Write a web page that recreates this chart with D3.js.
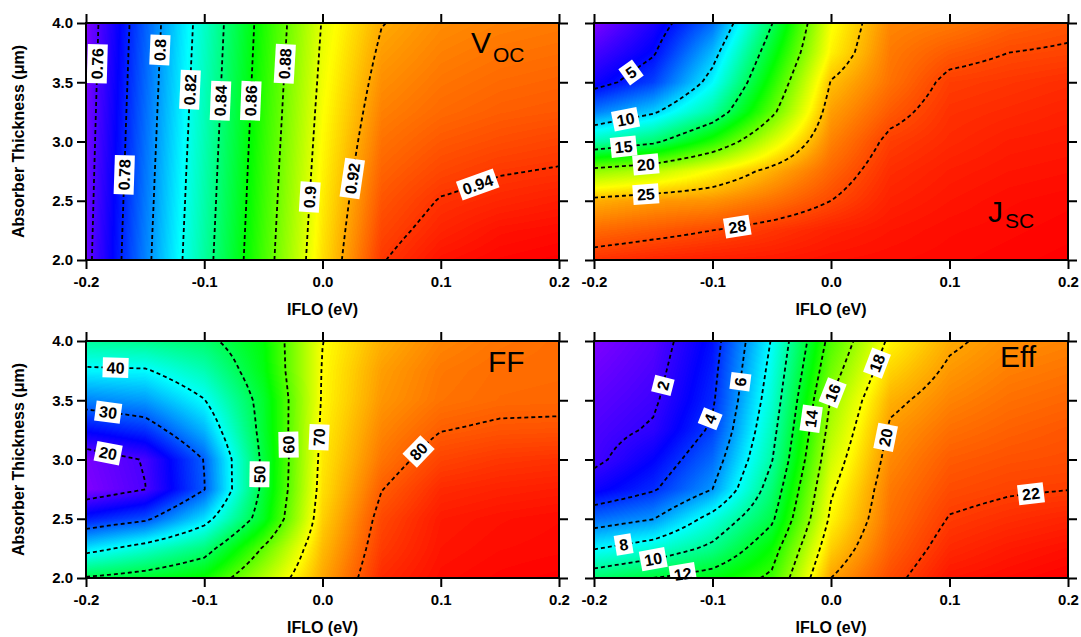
<!DOCTYPE html>
<html><head><meta charset="utf-8">
<script src="https://cdn.jsdelivr.net/npm/d3@7"></script>
<style>
body{margin:0;background:#fff;}
svg{display:block;}
.tick text{font-family:"Liberation Sans",Arial,sans-serif;font-weight:bold;font-size:15px;fill:#000;}
</style>
</head><body>
<svg id="chart" width="1081" height="637"></svg>
<script>
// ---------------- data ----------------
const iflo = [-0.2, -0.15, -0.1, -0.05, 0, 0.05, 0.1, 0.15, 0.2];          // IFLO (eV), grid columns
const thickness = [2.0, 2.25, 2.5, 2.75, 3.0, 3.25, 3.5, 3.75, 4.0];      // absorber thickness (um), grid rows
const xTicks = [-0.2, -0.1, 0, 0.1, 0.2];
const yTicks = [2.0, 2.5, 3.0, 3.5, 4.0];

// one inner array per IFLO value, listing thickness 2.0 -> 4.0
const vocValues = [
  [0.756, 0.7555, 0.755, 0.7545, 0.754, 0.7535, 0.753, 0.7525, 0.752],
  [0.796, 0.7953, 0.7945, 0.7938, 0.793, 0.7923, 0.7915, 0.7908, 0.790],
  [0.834, 0.8331, 0.8322, 0.8314, 0.8305, 0.8296, 0.8288, 0.8279, 0.827],
  [0.873, 0.8721, 0.8712, 0.8704, 0.8695, 0.8686, 0.8678, 0.8669, 0.866],
  [0.9105, 0.9093, 0.9081, 0.9069, 0.9057, 0.9045, 0.9032, 0.902, 0.9008],
  [0.9395, 0.937, 0.9345, 0.932, 0.9295, 0.927, 0.9246, 0.9221, 0.9196],
  [0.946, 0.943, 0.9405, 0.937, 0.934, 0.931, 0.929, 0.927, 0.925],
  [0.948, 0.946, 0.9425, 0.9395, 0.936, 0.933, 0.931, 0.929, 0.927],
  [0.949, 0.947, 0.944, 0.9405, 0.9375, 0.934, 0.932, 0.930, 0.928]
];
const jscValues = [
  [28.6, 27.2, 25.5, 20.8, 12.8, 7.7, 4.2, 2.9, 1.5],
  [28.9, 27.6, 26.0, 21.8, 14.5, 9.7, 6.2, 4.8, 3.9],
  [29.1, 28.0, 26.2, 23.6, 18.0, 13.3, 10.8, 9.2, 7.3],
  [29.2, 28.5, 27.0, 25.5, 22.5, 19.5, 17.9, 16.4, 14.9],
  [29.4, 29.0, 28.0, 27.3, 26.6, 25.9, 25.1, 23.8, 23.3],
  [29.5, 29.3, 29.0, 28.7, 28.3, 27.6, 27.0, 26.8, 26.5],
  [29.6, 29.5, 29.3, 29.1, 28.8, 28.6, 28.3, 27.6, 26.8],
  [29.7, 29.6, 29.5, 29.3, 29.1, 28.8, 28.5, 28.0, 27.4],
  [29.8, 29.7, 29.6, 29.4, 29.2, 29.0, 28.7, 28.15, 27.7]
];
const ffValues = [
  [50.5, 37.9, 25.9, 16.8, 17.3, 24.9, 32.3, 39.2, 45.5],
  [52.5, 42.3, 29.0, 19.9, 20.3, 27.3, 33.7, 39.5, 46.5],
  [55.5, 47.5, 37.8, 29.8, 30.2, 35.3, 39.8, 44.2, 48.5],
  [65.5, 60.5, 53.0, 51.5, 51.3, 52.0, 52.2, 53.9, 54.5],
  [75.5, 74.3, 73.0, 72.0, 71.5, 71.0, 70.5, 70.3, 69.9],
  [83.0, 82.0, 81.2, 79.9, 78.5, 77.5, 76.5, 76.0, 75.0],
  [84.7, 84.3, 84.0, 83.0, 81.5, 79.9, 78.6, 78.3, 77.5],
  [85.2, 84.8, 84.5, 83.5, 82.2, 80.5, 79.2, 79.0, 78.5],
  [85.5, 85.0, 84.8, 83.8, 82.5, 80.6, 79.3, 79.1, 79.0]
];
const effValues = [
  [11.0, 7.9, 5.1, 2.7, 1.7, 1.5, 1.2, 0.85, 0.5],
  [12.0, 8.85, 5.95, 3.83, 2.98, 2.15, 1.8, 1.55, 1.3],
  [12.75, 10.4, 8.6, 6.0, 5.1, 4.25, 3.8, 3.55, 3.3],
  [14.3, 13.2, 11.7, 10.8, 9.9, 9.4, 8.9, 8.5, 8.1],
  [20.0, 19.1, 18.3, 17.8, 17.2, 16.6, 16.1, 15.3, 14.6],
  [21.7, 21.3, 21.0, 20.8, 20.5, 20.2, 19.7, 19.0, 18.3],
  [22.8, 22.4, 22.05, 21.7, 21.4, 21.0, 20.6, 20.2, 19.8],
  [23.0, 22.7, 22.3, 21.9, 21.6, 21.3, 21.0, 20.7, 20.4],
  [23.2, 22.9, 22.5, 21.98, 21.7, 21.5, 21.2, 20.9, 20.6]
];

const vocLevels = [0.76, 0.78, 0.8, 0.82, 0.84, 0.86, 0.88, 0.9, 0.92, 0.94];
const jscLevels = [5, 10, 15, 20, 25, 28];
const ffLevels = [20, 30, 40, 50, 60, 70, 80];
const effLevels = [2, 4, 6, 8, 10, 12, 14, 16, 18, 20, 22];

// contour label anchors: [level, IFLO, thickness]
const vocLabelAt = [[0.76,-0.191,3.66],[0.78,-0.17,2.72],[0.8,-0.137,3.77],[0.82,-0.111,3.45],[0.84,-0.085,3.35],
  [0.86,-0.061,3.35],[0.88,-0.032,3.65],[0.9,-0.012,2.535],[0.92,0.024,2.70],[0.94,0.130,2.676]];
const jscLabelAt = [[5,-0.167,3.535],[10,-0.171,3.155],[15,-0.177,2.957],[20,-0.154,2.83],[25,-0.156,2.59],[28,-0.08,2.282]];
const ffLabelAt = [[40,-0.1755,3.767],[30,-0.18,3.38],[20,-0.18,3.05],[50,-0.052,2.87],[60,-0.029,3.125],[70,-0.0035,3.196],[80,0.0825,3.08]];
const effLabelAt = [[2,-0.136,3.60],[4,-0.0996,3.32],[6,-0.0728,3.64],[8,-0.174,2.27],[10,-0.147,2.16],[12,-0.122,2.04],
  [14,-0.0179,3.36],[16,0.0012,3.574],[18,0.034,3.84],[20,0.0426,3.18],[22,0.1677,2.69]];

// ---------------- layout ----------------
const panels = [
  {values: vocValues, levels: vocLevels, labelAt: vocLabelAt, left: 86, right: 559, top: 23, bottom: 260, yLabels: true,
   title: [{t:"V", x:471, y:53, s:30}, {t:"OC", x:493, y:61.5, s:21}]},
  {values: jscValues, levels: jscLevels, labelAt: jscLabelAt, left: 594, right: 1068, top: 23, bottom: 260, yLabels: false,
   title: [{t:"J", x:988, y:222, s:30}, {t:"SC", x:1005, y:228, s:21}]},
  {values: ffValues, levels: ffLevels, labelAt: ffLabelAt, left: 86, right: 559, top: 341, bottom: 578, yLabels: true,
   title: [{t:"FF", x:488, y:372, s:30}]},
  {values: effValues, levels: effLevels, labelAt: effLabelAt, left: 594, right: 1068, top: 341, bottom: 578, yLabels: false,
   title: [{t:"Eff", x:1000, y:367, s:30}]}
];

const svg = d3.select("#chart");
const defs = svg.append("defs");
const FONT = '"Liberation Sans",Arial,sans-serif';

// colour lookup: Igor-like rainbow (violet -> blue -> cyan -> green -> yellow -> red)
const lut = d3.range(256).map(i => d3.rgb(d3.hsl(270 * (1 - i / 255), 1, 0.5)));

function bilinear(vals, x, y) {
  const nx = iflo.length, ny = thickness.length;
  let fx = (x - iflo[0]) / (iflo[nx - 1] - iflo[0]) * (nx - 1);
  let fy = (y - thickness[0]) / (thickness[ny - 1] - thickness[0]) * (ny - 1);
  fx = Math.max(0, Math.min(nx - 1, fx)); fy = Math.max(0, Math.min(ny - 1, fy));
  const i0 = Math.min(nx - 2, Math.floor(fx)), j0 = Math.min(ny - 2, Math.floor(fy));
  const tx = fx - i0, ty = fy - j0;
  const a = vals[i0][j0], b = vals[i0 + 1][j0], c = vals[i0][j0 + 1], d = vals[i0 + 1][j0 + 1];
  return (a * (1 - tx) + b * tx) * (1 - ty) + (c * (1 - tx) + d * tx) * ty;
}

// marching squares isolines on a sampled field
function isolines(F, NX, NY, L) {
  const segs = [], pts = new Map();
  const v = (i, j) => F[j * NX + i];
  function hE(i, j) { const k = "h" + i + "," + j; if (!pts.has(k)) { const a = v(i, j), b = v(i + 1, j); pts.set(k, [i + (L - a) / (b - a), j]); } return k; }
  function vE(i, j) { const k = "v" + i + "," + j; if (!pts.has(k)) { const a = v(i, j), b = v(i, j + 1); pts.set(k, [i, j + (L - a) / (b - a)]); } return k; }
  for (let j = 0; j < NY - 1; j++) for (let i = 0; i < NX - 1; i++) {
    const a = v(i, j) >= L, b = v(i + 1, j) >= L, c = v(i + 1, j + 1) >= L, d = v(i, j + 1) >= L;
    const e = [];
    if (a !== b) e.push(hE(i, j));
    if (b !== c) e.push(vE(i + 1, j));
    if (c !== d) e.push(hE(i, j + 1));
    if (d !== a) e.push(vE(i, j));
    if (e.length === 2) segs.push([e[0], e[1]]);
    else if (e.length === 4) {
      const center = (v(i, j) + v(i + 1, j) + v(i + 1, j + 1) + v(i, j + 1)) / 4 >= L;
      if ((a && center) || (!a && !center)) { segs.push([e[0], e[1]]); segs.push([e[2], e[3]]); }
      else { segs.push([e[0], e[3]]); segs.push([e[1], e[2]]); }
    }
  }
  const adj = new Map();
  segs.forEach((s, k) => s.forEach(e => { if (!adj.has(e)) adj.set(e, []); adj.get(e).push(k); }));
  const used = new Array(segs.length).fill(false), lines = [];
  const order = [...adj.keys()].filter(e => adj.get(e).length === 1).concat([...adj.keys()]);
  for (const e0 of order) for (const k0 of adj.get(e0)) {
    if (used[k0]) continue;
    const line = [e0]; let e = e0, k = k0;
    while (k !== undefined && !used[k]) {
      used[k] = true;
      const s = segs[k]; const nxt = s[0] === e ? s[1] : s[0];
      line.push(nxt); e = nxt;
      k = adj.get(e).find(kk => !used[kk]);
    }
    lines.push(line.map(key => pts.get(key)));
  }
  return lines;
}

panels.forEach((p, pi) => {
  const x = d3.scaleLinear().domain([iflo[0], iflo[iflo.length - 1]]).range([p.left, p.right]);
  const y = d3.scaleLinear().domain([thickness[0], thickness[thickness.length - 1]]).range([p.bottom, p.top]);
  const all = p.values.flat();
  const color = d3.scaleLinear().domain(d3.extent(all)).range([0, 255]).clamp(true);

  // filled image
  const cw = Math.round(p.right - p.left), ch = Math.round(p.bottom - p.top);
  const canvas = document.createElement("canvas");
  canvas.width = cw; canvas.height = ch;
  const ctx = canvas.getContext("2d");
  const img = ctx.createImageData(cw, ch);
  for (let py = 0; py < ch; py++) {
    const yv = y.invert(p.top + py + 0.5);
    for (let px = 0; px < cw; px++) {
      const xv = x.invert(p.left + px + 0.5);
      const c = lut[Math.round(color(bilinear(p.values, xv, yv)))];
      const o = (py * cw + px) * 4;
      img.data[o] = c.r; img.data[o + 1] = c.g; img.data[o + 2] = c.b; img.data[o + 3] = 255;
    }
  }
  ctx.putImageData(img, 0, 0);
  const g = svg.append("g");
  g.append("image").attr("href", canvas.toDataURL()).attr("x", p.left).attr("y", p.top)
    .attr("width", p.right - p.left).attr("height", p.bottom - p.top).attr("preserveAspectRatio", "none");

  // contours on a finer sampling of the grid
  const U = 8, NX = (iflo.length - 1) * U + 1, NY = (thickness.length - 1) * U + 1;
  const F = new Float64Array(NX * NY);
  const gx = i => iflo[0] + (iflo[iflo.length - 1] - iflo[0]) * i / (NX - 1);
  const gy = j => thickness[0] + (thickness[thickness.length - 1] - thickness[0]) * j / (NY - 1);
  for (let j = 0; j < NY; j++) for (let i = 0; i < NX; i++) F[j * NX + i] = bilinear(p.values, gx(i), gy(j));

  const clipId = "clip" + pi;
  defs.append("clipPath").attr("id", clipId).append("rect")
    .attr("x", p.left).attr("y", p.top).attr("width", p.right - p.left).attr("height", p.bottom - p.top);
  const cg = g.append("g").attr("clip-path", `url(#${clipId})`);
  const lineGen = d3.line();
  const byLevel = new Map();
  p.levels.forEach(L => {
    const lines = isolines(F, NX, NY, L).map(l => l.map(([i, j]) => [x(gx(i)), y(gy(j))]));
    byLevel.set(L, lines);
    lines.forEach(l => cg.append("path").attr("d", lineGen(l)).attr("fill", "none")
      .attr("stroke", "#000").attr("stroke-width", 1.8).attr("stroke-dasharray", "4,3"));
  });

  // contour labels
  p.labelAt.forEach(([L, lx, ly]) => {
    const ax = x(lx), ay = y(ly);
    let best = null, bd = Infinity;
    (byLevel.get(L) || []).forEach(l => l.forEach((pt, k) => {
      const d = (pt[0] - ax) ** 2 + (pt[1] - ay) ** 2;
      if (d < bd) { bd = d; best = {l, k}; }
    }));
    if (!best) return;
    const l = best.l, k = best.k;
    const p0 = l[Math.max(0, k - 3)], p1 = l[Math.min(l.length - 1, k + 3)];
    let ang = Math.atan2(p1[1] - p0[1], p1[0] - p0[0]) * 180 / Math.PI;
    if (ang > 90) ang -= 180;
    if (ang <= -90) ang += 180;
    if (ang > 60) ang -= 180;   // steep lines: text always reads upward
    const lg = g.append("g").attr("transform", `translate(${l[k][0]},${l[k][1]}) rotate(${ang})`);
    const rect = lg.append("rect").attr("fill", "#fff");
    const t = lg.append("text").text(String(L)).attr("text-anchor", "middle").attr("dy", "0.36em")
      .attr("font-family", FONT).attr("font-weight", "bold").attr("font-size", 16).attr("fill", "#000");
    const w = t.node().getComputedTextLength();
    rect.attr("x", -w / 2 - 4).attr("y", -10).attr("width", w + 8).attr("height", 20);
  });

  // frame
  g.append("rect").attr("x", p.left).attr("y", p.top).attr("width", p.right - p.left).attr("height", p.bottom - p.top)
    .attr("fill", "none").attr("stroke", "#000").attr("stroke-width", 2);

  // axes (ticks outward on all sides)
  const fmt = v => v.toFixed(1);
  const styleAxis = sel => { sel.select(".domain").remove(); sel.selectAll(".tick line").attr("stroke", "#000").attr("stroke-width", 2); };
  g.append("g").attr("transform", `translate(0,${p.bottom})`)
    .call(d3.axisBottom(x).tickValues(xTicks).tickFormat(fmt).tickSize(9).tickPadding(7)).call(styleAxis);
  g.append("g").attr("transform", `translate(0,${p.top})`)
    .call(d3.axisTop(x).tickValues(xTicks).tickFormat("").tickSize(9)).call(styleAxis);
  g.append("g").attr("transform", `translate(${p.left},0)`)
    .call(d3.axisLeft(y).tickValues(yTicks).tickFormat(p.yLabels ? fmt : "").tickSize(9).tickPadding(4)).call(styleAxis);
  g.append("g").attr("transform", `translate(${p.right},0)`)
    .call(d3.axisRight(y).tickValues(yTicks).tickFormat("").tickSize(9)).call(styleAxis);

  // axis titles
  g.append("text").attr("x", (p.left + p.right) / 2).attr("y", p.bottom + 55).attr("text-anchor", "middle")
    .attr("font-family", FONT).attr("font-weight", "bold").attr("font-size", 16).text("IFLO (eV)");
  if (p.yLabels) {
    g.append("text").attr("transform", `translate(24,${(p.top + p.bottom) / 2}) rotate(-90)`).attr("text-anchor", "middle")
      .attr("font-family", FONT).attr("font-weight", "bold").attr("font-size", 16).text("Absorber Thickness (\u03bcm)");
  }
  // panel title
  p.title.forEach(tt => g.append("text").attr("x", tt.x).attr("y", tt.y).attr("font-family", FONT)
    .attr("font-size", tt.s).attr("fill", "#000").text(tt.t));
});
</script>
</body></html>
